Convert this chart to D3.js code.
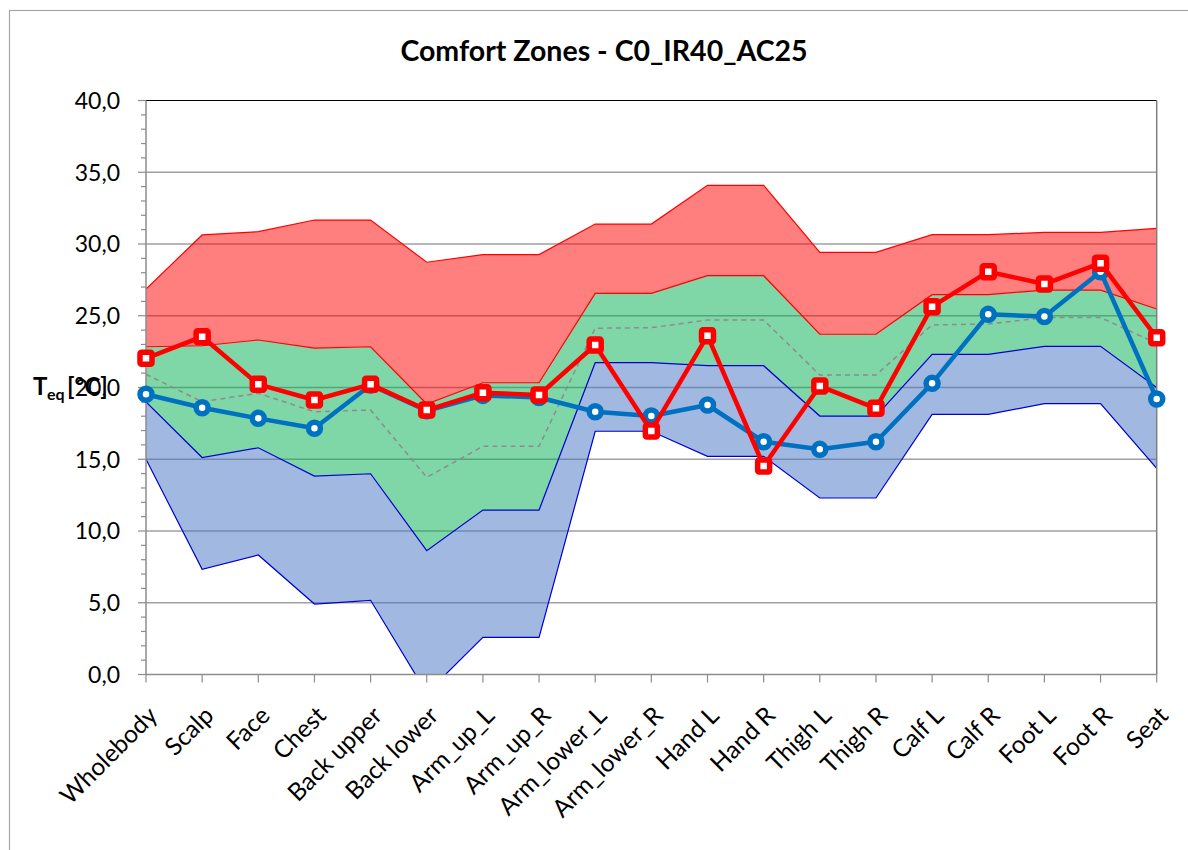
<!DOCTYPE html>
<html>
<head>
<meta charset="utf-8">
<script src="https://cdn.jsdelivr.net/npm/d3@7"></script>
<style>
  html, body { margin: 0; padding: 0; background: #fff; }
  svg { display: block; font-family: Lato, "Open Sans", sans-serif; }
</style>
</head>
<body>
<div id="chart"></div>
<script>
// body zones along the x axis
const categories = ["Wholebody", "Scalp", "Face", "Chest", "Back upper", "Back lower",
  "Arm_up_L", "Arm_up_R", "Arm_lower_L", "Arm_lower_R", "Hand L", "Hand R",
  "Thigh L", "Thigh R", "Calf L", "Calf R", "Foot L", "Foot R", "Seat"];

// zone limits [°C]
const hotUpper     = [26.86, 30.63, 30.86, 31.67, 31.67, 28.73, 29.26, 29.26, 31.39, 31.39, 34.09, 34.09, 29.42, 29.42, 30.65, 30.65, 30.81, 30.81, 31.09];
const comfortUpper = [22.84, 22.91, 23.31, 22.75, 22.84, 18.85, 20.33, 20.33, 26.56, 26.56, 27.79, 27.79, 23.71, 23.71, 26.47, 26.47, 26.79, 26.79, 25.47];
const comfortLower = [19.00, 15.12, 15.80, 13.83, 13.99, 8.63, 11.46, 11.46, 21.73, 21.73, 21.52, 21.52, 18.01, 18.01, 22.31, 22.31, 22.87, 22.87, 20.00];
const coldLower    = [15.00, 7.33, 8.33, 4.91, 5.17, -1.30, 2.59, 2.59, 16.95, 16.95, 15.20, 15.20, 12.30, 12.30, 18.13, 18.13, 18.87, 18.87, 14.37];
const neutral      = [20.92, 19.01, 19.60, 18.31, 18.43, 13.74, 15.90, 15.90, 24.13, 24.17, 24.70, 24.70, 20.87, 20.87, 24.36, 24.43, 24.87, 24.87, 23.08];

// measured equivalent temperatures
const teqBlue = [19.53, 18.59, 17.85, 17.16, 20.17, 18.38, 19.45, 19.30, 18.31, 18.01, 18.78, 16.22, 15.69, 16.22, 20.29, 25.10, 24.94, 28.07, 19.20];
const teqRed  = [22.03, 23.54, 20.22, 19.13, 20.22, 18.43, 19.64, 19.48, 22.96, 16.97, 23.61, 14.53, 20.10, 18.55, 25.63, 28.07, 27.21, 28.66, 23.47];

const yTicks = [0, 5, 10, 15, 20, 25, 30, 35, 40];

const width = 1188, height = 850;
const plot = { left: 146, right: 1156.7, top: 100.5, bottom: 674.5 };

const svg = d3.select("#chart").append("svg")
  .attr("width", width)
  .attr("height", height);

// outer chart frame (runs off the right and bottom edge)
svg.append("rect")
  .attr("x", 9.5).attr("y", 10.5)
  .attr("width", 1300).attr("height", 1000)
  .attr("fill", "none")
  .attr("stroke", "#a6a6a6")
  .attr("stroke-width", 1.2);

const x = d3.scalePoint().domain(categories).range([plot.left, plot.right]);
const y = d3.scaleLinear().domain([0, 40]).range([plot.bottom, plot.top]);

svg.append("defs").append("clipPath").attr("id", "plotClip")
  .append("rect")
  .attr("x", plot.left).attr("y", plot.top)
  .attr("width", plot.right - plot.left).attr("height", plot.bottom - plot.top);

// gridlines
svg.append("g")
  .selectAll("line")
  .data(yTicks.filter(t => t > 0 && t < 40))
  .enter().append("line")
  .attr("x1", plot.left).attr("x2", plot.right)
  .attr("y1", d => y(d)).attr("y2", d => y(d))
  .attr("stroke", "#a0a0a0")
  .attr("stroke-width", 1.3);

const idx = d3.range(categories.length);
const px = i => x(categories[i]);

// zone bands (semi transparent like the original)
const bands = [
  { lo: coldLower, hi: comfortLower, fill: "#4472c4" },
  { lo: comfortLower, hi: comfortUpper, fill: "#00b050" },
  { lo: comfortUpper, hi: hotUpper, fill: "#ff0000" }
];

const zones = svg.append("g").attr("clip-path", "url(#plotClip)");

bands.forEach(b => {
  const area = d3.area()
    .x(px)
    .y0(i => y(b.lo[i]))
    .y1(i => y(b.hi[i]));
  zones.append("path")
    .datum(idx)
    .attr("d", area)
    .attr("fill", b.fill)
    .attr("fill-opacity", 0.5);
});

// thin outline lines of the zones
const outlines = [
  { data: coldLower, color: "#0000cc" },
  { data: comfortLower, color: "#0000cc" },
  { data: comfortUpper, color: "#ff0000" },
  { data: hotUpper, color: "#ff0000" }
];
outlines.forEach(o => {
  zones.append("path")
    .datum(idx)
    .attr("d", d3.line().x(px).y(i => y(o.data[i])))
    .attr("fill", "none")
    .attr("stroke", o.color)
    .attr("stroke-width", 1.2);
});

// neutral dashed line
zones.append("path")
  .datum(idx)
  .attr("d", d3.line().x(px).y(i => y(neutral[i])))
  .attr("fill", "none")
  .attr("stroke", "#8c8c8c")
  .attr("stroke-width", 1.5)
  .attr("stroke-dasharray", "5,4");

// plot border: black top, gray right
svg.append("line")
  .attr("x1", plot.left).attr("x2", plot.right)
  .attr("y1", plot.top).attr("y2", plot.top)
  .attr("stroke", "#000").attr("stroke-width", 1.2);
svg.append("line")
  .attr("x1", plot.right).attr("x2", plot.right)
  .attr("y1", plot.top).attr("y2", plot.bottom)
  .attr("stroke", "#808080").attr("stroke-width", 1.5);

// y axis with major and minor ticks
const yAxis = svg.append("g");
yAxis.append("line")
  .attr("x1", plot.left).attr("x2", plot.left)
  .attr("y1", plot.top).attr("y2", plot.bottom)
  .attr("stroke", "#8c8c8c").attr("stroke-width", 1.5);
yAxis.selectAll(".minor")
  .data(d3.range(0, 41, 1).filter(v => v % 5 !== 0))
  .enter().append("line")
  .attr("x1", plot.left - 5).attr("x2", plot.left)
  .attr("y1", d => y(d)).attr("y2", d => y(d))
  .attr("stroke", "#8c8c8c").attr("stroke-width", 1.2);
yAxis.selectAll(".major")
  .data(yTicks)
  .enter().append("line")
  .attr("x1", plot.left - 8).attr("x2", plot.left)
  .attr("y1", d => y(d)).attr("y2", d => y(d))
  .attr("stroke", "#8c8c8c").attr("stroke-width", 1.2);
yAxis.selectAll("text")
  .data(yTicks)
  .enter().append("text")
  .attr("x", 120)
  .attr("y", d => y(d))
  .attr("dy", "0.36em")
  .attr("text-anchor", "end")
  .attr("font-size", 23)
  .attr("fill", "#000")
  .text(d => d3.format(".1f")(d).replace(".", ","));

// x axis
const xAxis = svg.append("g");
xAxis.append("line")
  .attr("x1", plot.left).attr("x2", plot.right)
  .attr("y1", plot.bottom).attr("y2", plot.bottom)
  .attr("stroke", "#8c8c8c").attr("stroke-width", 1.5);
xAxis.selectAll(".tick")
  .data(categories)
  .enter().append("line")
  .attr("x1", d => x(d)).attr("x2", d => x(d))
  .attr("y1", plot.bottom).attr("y2", plot.bottom + 8)
  .attr("stroke", "#8c8c8c").attr("stroke-width", 1.2);
xAxis.selectAll("text")
  .data(categories)
  .enter().append("text")
  .attr("transform", d => `translate(${x(d) + 13},717) rotate(-45)`)
  .attr("text-anchor", "end")
  .attr("font-size", 24.5)
  .attr("fill", "#000")
  .text(d => d);

// measured series
function drawSeries(values, color, marker) {
  const g = svg.append("g");
  g.append("path")
    .datum(idx)
    .attr("d", d3.line().x(px).y(i => y(values[i])))
    .attr("fill", "none")
    .attr("stroke", color)
    .attr("stroke-width", 4.5)
    .attr("stroke-linejoin", "round");
  if (marker === "circle") {
    g.selectAll("circle")
      .data(idx)
      .enter().append("circle")
      .attr("cx", px)
      .attr("cy", i => y(values[i]))
      .attr("r", 6)
      .attr("fill", "#fff")
      .attr("stroke", color)
      .attr("stroke-width", 5.5);
  } else {
    g.selectAll("rect")
      .data(idx)
      .enter().append("rect")
      .attr("x", i => px(i) - 6)
      .attr("y", i => y(values[i]) - 6)
      .attr("width", 12)
      .attr("height", 12)
      .attr("rx", 1.5)
      .attr("fill", "#fff")
      .attr("stroke", color)
      .attr("stroke-width", 5.5);
  }
}
drawSeries(teqBlue, "#0070c0", "circle");
drawSeries(teqRed, "#ff0000", "square");

// title
svg.append("text")
  .attr("x", 604)
  .attr("y", 61)
  .attr("text-anchor", "middle")
  .attr("font-size", 28.5)
  .attr("font-weight", "bold")
  .attr("fill", "#000")
  .text("Comfort Zones - C0_IR40_AC25");

// y axis label (horizontal, overlapping the 20,0 tick as in the original)
const yl = svg.append("text")
  .attr("y", 395)
  .attr("font-weight", "bold")
  .attr("fill", "#000");
yl.append("tspan").attr("x", 33).attr("font-size", 24).text("T");
yl.append("tspan").attr("x", 47).attr("dy", 5).attr("font-size", 16).text("eq");
yl.append("tspan").attr("x", 67).attr("dy", -5).attr("font-size", 24).text("[°C]");
</script>
</body>
</html>
